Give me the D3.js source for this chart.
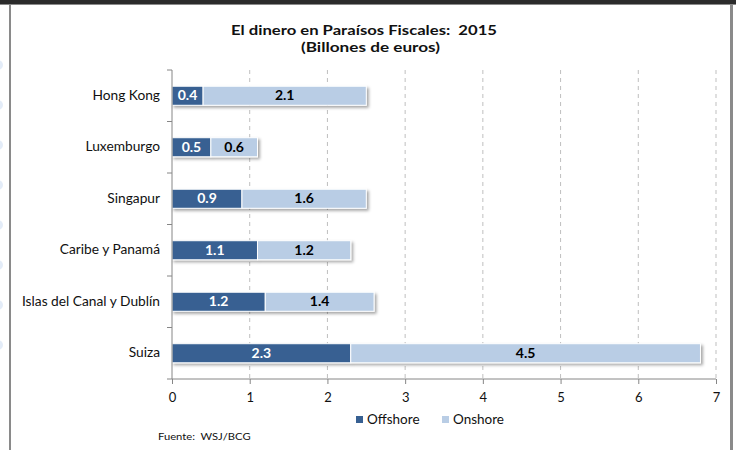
<!DOCTYPE html>
<html><head><meta charset="utf-8">
<script src="https://cdn.jsdelivr.net/npm/d3@7"></script>
<style>body{margin:0;background:#fff}svg{display:block;font-family:Lato,"Open Sans",sans-serif}</style>
</head><body><svg id="c" width="736" height="450"></svg>
<script>
const categories = ["Hong Kong","Luxemburgo","Singapur","Caribe y Panamá","Islas del Canal y Dublín","Suiza"];
const offshore = [0.4,0.5,0.9,1.1,1.2,2.3];
const onshore = [2.1,0.6,1.6,1.2,1.4,4.5];
const xTicks = [0,1,2,3,4,5,6,7];
const seriesNames = ["Offshore","Onshore"];
const colors = ["#376092","#b9cde5"];

const svg = d3.select("#c");
function stretch(sel, k){ sel.each(function(){ const w=this.getComputedTextLength(); d3.select(this).attr("textLength",w*k).attr("lengthAdjust","spacingAndGlyphs"); }); }
function fitTo(sel, w){ sel.attr("textLength",w).attr("lengthAdjust","spacingAndGlyphs"); }

// page frame
svg.append("rect").attr("x",0).attr("y",0).attr("width",736).attr("height",4).attr("fill","#2b2b2b");
svg.append("rect").attr("x",0).attr("y",4).attr("width",736).attr("height",1).attr("fill","#8a8a8a");
svg.append("rect").attr("x",9).attr("y",4).attr("width",2).attr("height",446).attr("fill","#8a8a8a");
svg.append("rect").attr("x",730).attr("y",4).attr("width",3).attr("height",446).attr("fill","#8a8a8a");
[65,105,145,185,225,265,305,345].forEach(cy=>svg.append("circle").attr("cx",-2).attr("cy",cy).attr("r",5).attr("fill","#e3ecf8"));

const defs = svg.append("defs");
const f = defs.append("filter").attr("id","sh").attr("x","-5%").attr("y","-30%").attr("width","115%").attr("height","180%");
f.append("feDropShadow").attr("dx",2).attr("dy",2).attr("stdDeviation",1.5).attr("flood-color","#000").attr("flood-opacity",0.35);

const x = d3.scaleLinear().domain([0,7]).range([172,716]);
const y = d3.scaleBand().domain(categories).range([70,379]).paddingInner(0.63).paddingOuter(0.315);

// gridlines
svg.append("g").selectAll("line").data(xTicks.slice(1)).join("line")
  .attr("x1",d=>x(d)).attr("x2",d=>x(d)).attr("y1",70).attr("y2",379)
  .attr("stroke","#bfbfbf").attr("stroke-dasharray","4,4");

// title
fitTo(svg.append("text").attr("x",231).attr("y",35).attr("font-weight","bold").attr("font-size",14).attr("fill","#111").style("white-space","pre").text("El dinero en Paraísos Fiscales:  2015"), 266);
fitTo(svg.append("text").attr("x",301).attr("y",52).attr("font-weight","bold").attr("font-size",13).attr("fill","#111").text("(Billones de euros)"), 139);

// bars
const rows = categories.map((c,i)=>({c, segs:[{s:0,v:offshore[i],x0:0},{s:1,v:onshore[i],x0:offshore[i]}]}));
const g = svg.append("g");
rows.forEach(r=>{
  const rg = g.append("g").attr("filter","url(#sh)");
  rg.selectAll("rect").data(r.segs).join("rect")
    .attr("x",d=>x(d.x0)).attr("y",y(r.c)).attr("width",d=>x(d.x0+d.v)-x(d.x0)).attr("height",y.bandwidth())
    .attr("fill",d=>colors[d.s]).attr("stroke","#fff").attr("stroke-width",1);
  const t = g.selectAll(null).data(r.segs).join("text")
    .attr("x",d=>(x(d.x0)+x(d.x0+d.v))/2).attr("y",y(r.c)+y.bandwidth()/2+4.5)
    .attr("text-anchor","middle").attr("font-weight","bold").attr("font-size",12.5)
    .attr("fill",d=>d.s===0?"#fff":"#000").text(d=>d.v.toFixed(1));
  stretch(t,1.12);
});

// axes
const xa = svg.append("g").attr("transform","translate(0,379)")
  .call(d3.axisBottom(x).tickValues(xTicks).tickSize(5).tickFormat(d3.format("d")));
xa.select(".domain").attr("stroke","#868686").attr("d","M172,0H716");
xa.selectAll(".tick line").attr("stroke","#868686");
xa.selectAll(".tick text").attr("font-size",13).attr("fill","#111").attr("dy","1.15em").attr("font-family","Lato,sans-serif");

const ya = svg.append("g").attr("transform","translate(172,0)")
  .call(d3.axisLeft(y).tickSize(0).tickPadding(12));
ya.select(".domain").attr("stroke","#868686").attr("d","M0,70V379");
const yt = ya.selectAll(".tick text").attr("font-size",12.5).attr("fill","#111").attr("font-family","Lato,sans-serif");
stretch(yt,1.1);
// category boundary ticks
svg.append("g").selectAll("line").data(d3.range(categories.length+1)).join("line")
  .attr("x1",167).attr("x2",172)
  .attr("y1",i=>70+i*(309/categories.length)).attr("y2",i=>70+i*(309/categories.length))
  .attr("stroke","#868686");

// legend
const lg = svg.append("g");
seriesNames.forEach((n,i)=>{
  const lx = [356,442][i];
  lg.append("rect").attr("x",lx).attr("y",416).attr("width",7).attr("height",7).attr("fill",colors[i]);
  stretch(lg.append("text").attr("x",lx+11).attr("y",424).attr("font-size",12.5).attr("fill","#111").text(n),1.08);
});
stretch(svg.append("text").attr("x",158).attr("y",440).attr("font-size",10).attr("fill","#111").style("white-space","pre").text("Fuente:  WSJ/BCG"),1.12);
</script></body></html>
